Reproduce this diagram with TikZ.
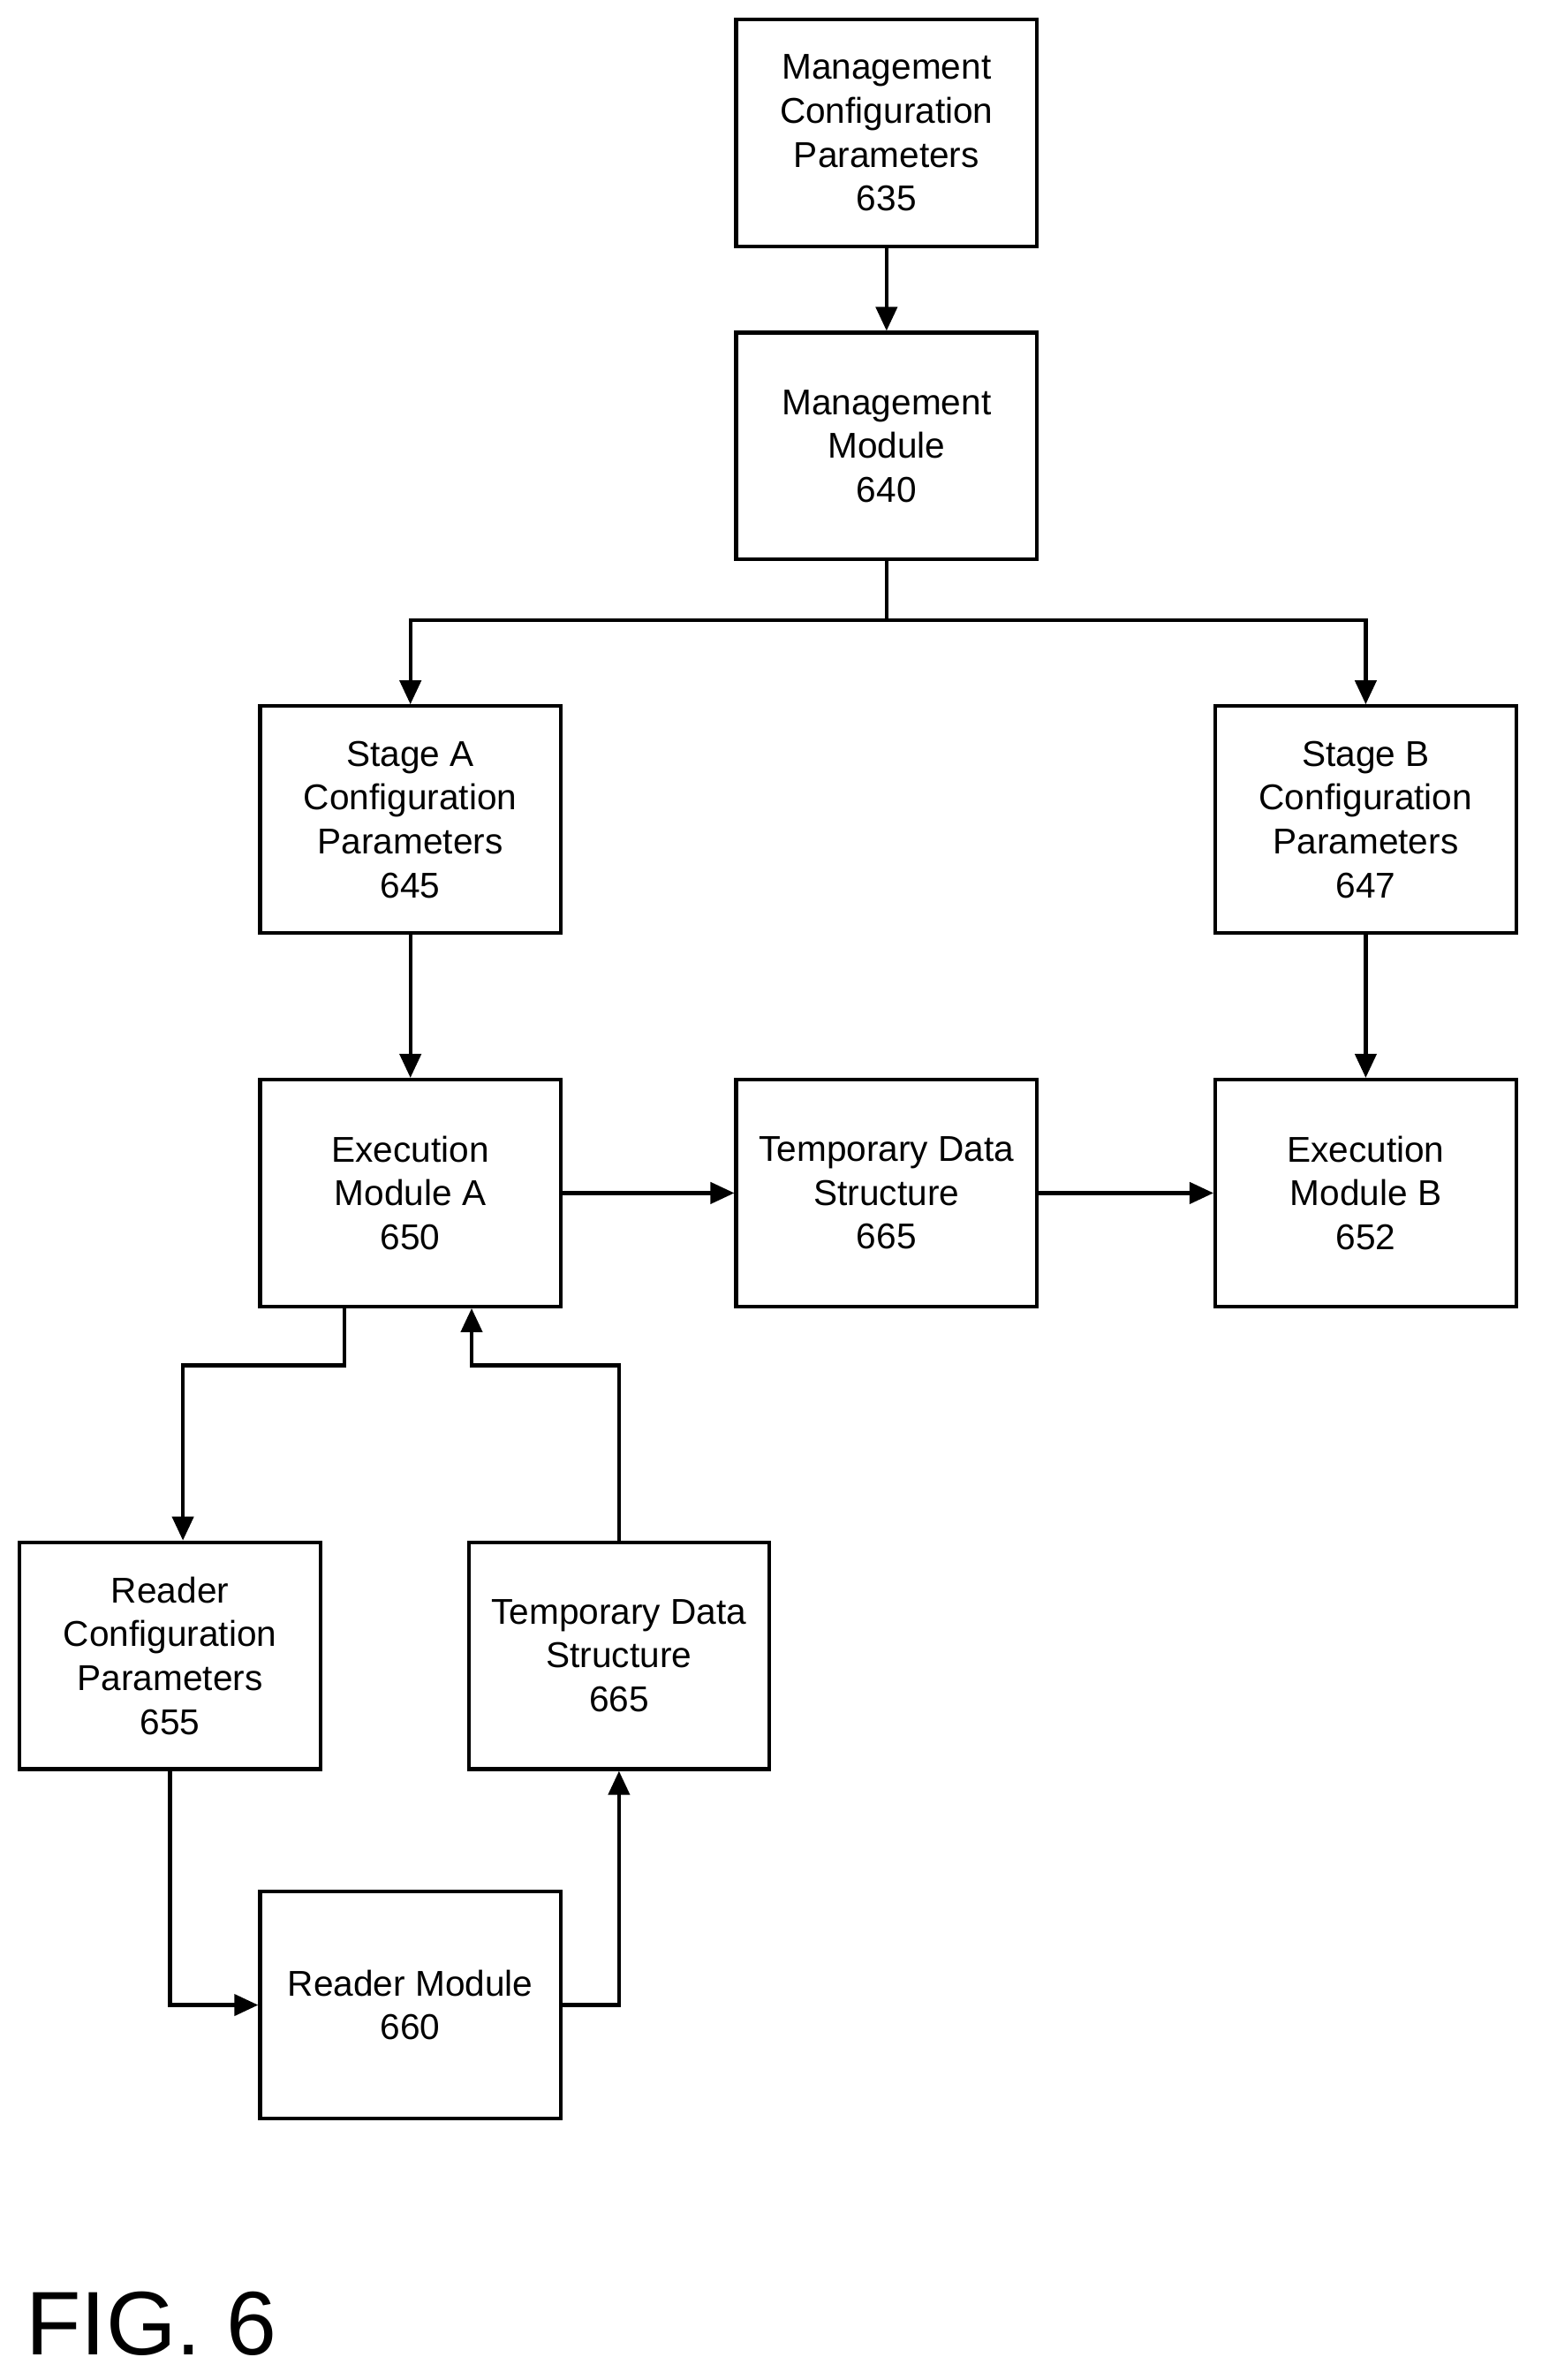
\documentclass[tikz,border=0pt]{standalone}
\usepackage{fontspec}
\setmainfont{Liberation Sans}
\usetikzlibrary{arrows.meta}
\tikzset{
box/.style={draw,line width=1.4pt,minimum width=3.98cm,minimum height=3cm,
  align=center,font=\fontsize{13.5}{16.5}\selectfont,inner sep=2pt},
link/.style={line width=1.4pt,-{Triangle[length=9pt,width=8pt]}}
}
\begin{document}
\begin{tikzpicture}[x=0.02cm,y=-0.02cm]
\useasboundingbox (0,0) rectangle (1020,1574);
% the boxes
\node[box] (mcp) at (586.5,88) {Management\\Configuration\\Parameters\\635};
\node[box] (mm) at (586.5,295) {Management\\Module\\640};
\node[box] (sa) at (271.5,542) {Stage A\\Configuration\\Parameters\\645};
\node[box] (sb) at (903.5,542) {Stage B\\Configuration\\Parameters\\647};
\node[box] (ea) at (271.5,789) {Execution\\Module A\\650};
\node[box] (tds) at (586.5,789) {Temporary Data\\Structure\\665};
\node[box] (eb) at (903.5,789) {Execution\\Module B\\652};
\node[box] (rcp) at (112.5,1095) {Reader\\Configuration\\Parameters\\655};
\node[box] (tdl) at (409.5,1095) {Temporary Data\\Structure\\665};
\node[box] (rm) at (271.5,1326) {Reader Module\\660};
\node[font=\fontsize{34}{40}\selectfont] (fig) at (100,1537) {FIG. 6};
% the arrows
\draw[link] (mcp) -- (mm);
\draw[link] (mm.south) |- (271.5,410) -- (sa.north);
\draw[link] (mm.south) |- (903.5,410) -- (sb.north);
\draw[link] (sa) -- (ea);
\draw[link] (sb) -- (eb);
\draw[link] (ea) -- (tds);
\draw[link] (tds) -- (eb);
\draw[link] (ea.south -| 228,0) |- (121,903) -- (rcp.north -| 121,0);
\draw[link] (tdl.north) |- (312,903) -- (ea.south -| 312,0);
\draw[link] (rcp.south) |- (rm.west);
\draw[link] (rm.east) -| (tdl.south);
\end{tikzpicture}
\end{document}
